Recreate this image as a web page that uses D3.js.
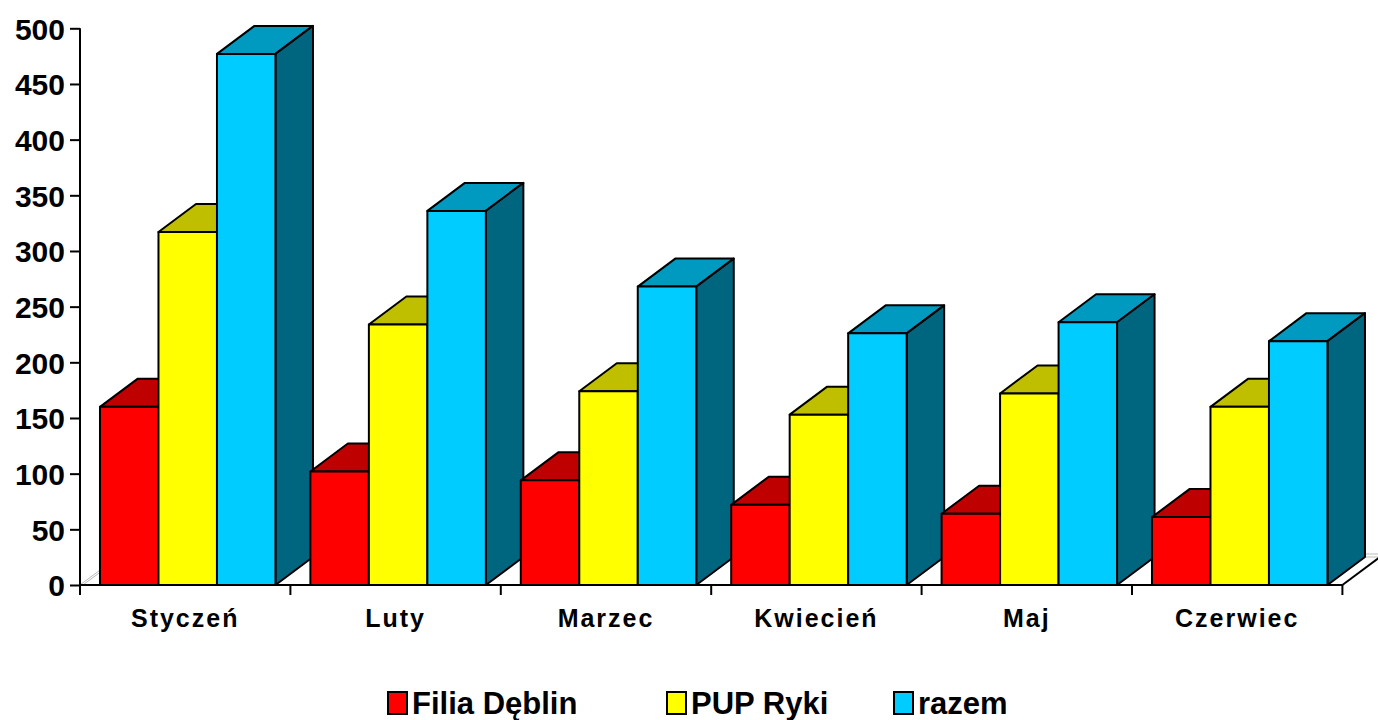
<!DOCTYPE html>
<html>
<head>
<meta charset="utf-8">
<script src="https://cdnjs.cloudflare.com/ajax/libs/d3/7.8.5/d3.min.js"></script>
<style>
  body { margin: 0; background: #fff; }
  text { font-family: "Liberation Sans", Arial, sans-serif; font-weight: bold; fill: #000; }
</style>
</head>
<body>
<div id="chart"></div>
<script>
// data
var months = ["Styczeń", "Luty", "Marzec", "Kwiecień", "Maj", "Czerwiec"];
var seriesNames = ["Filia Dęblin", "PUP Ryki", "razem"];
var filiaDeblin = [160, 102, 94, 72, 64, 61];
var pupRyki = [317, 234, 174, 153, 172, 160];
var razem = [477, 336, 268, 226, 236, 219];
var yTicks = [0, 50, 100, 150, 200, 250, 300, 350, 400, 450, 500];

var seriesValues = [filiaDeblin, pupRyki, razem];
// front, top, side colours
var colors = {
  "Filia Dęblin": ["#FF0000", "#BF0000", "#800000"],
  "PUP Ryki": ["#FFFF00", "#BFBF00", "#808000"],
  "razem": ["#00CCFF", "#0099BF", "#006680"]
};

var W = 1378, H = 720;
var mLeft = 80, mRight = 1342.4, mBottom = 585, mTop = 28.3;
var dx = 37.5, dy = 28; // 3d depth

var svg = d3.select("#chart").append("svg").attr("width", W).attr("height", H);

var x0 = d3.scaleBand().domain(months).range([mLeft, mRight]);
var catW = x0.bandwidth();
var x1 = d3.scaleBand().domain(seriesNames)
  .range([catW * 0.095, catW * 0.095 + catW * 0.278 * 3]);
var y = d3.scaleLinear().domain([0, 500]).range([mBottom, mTop]);

// floor
var floor = svg.append("g").attr("stroke", "#bbb").attr("stroke-width", 1);
floor.append("line").attr("x1", mLeft).attr("y1", mBottom).attr("x2", mLeft + dx).attr("y2", mBottom - dy);
floor.append("line").attr("x1", mLeft + 3).attr("y1", mBottom).attr("x2", mLeft + dx + 3).attr("y2", mBottom - dy);
floor.append("line").attr("x1", mLeft + dx).attr("y1", mBottom - dy).attr("x2", W).attr("y2", mBottom - dy);
floor.append("line").attr("x1", mLeft + dx).attr("y1", mBottom - dy - 3).attr("x2", W).attr("y2", mBottom - dy - 3);
svg.append("line").attr("x1", mRight).attr("y1", mBottom).attr("x2", mRight + dx).attr("y2", mBottom - dy)
  .attr("stroke", "#000").attr("stroke-width", 2);

// axes
var yAxis = svg.append("g").attr("transform", "translate(" + mLeft + ",0)")
  .call(d3.axisLeft(y).tickValues(yTicks).tickSize(10).tickPadding(5).tickFormat(d3.format("d")));
yAxis.select(".domain").remove();
yAxis.selectAll("line").attr("stroke", "#000").attr("stroke-width", 2);
yAxis.selectAll("text").style("font-size", "30px").attr("dy", "0.36em");
svg.append("line").attr("x1", mLeft).attr("x2", mLeft).attr("y1", mTop).attr("y2", mBottom + 10)
  .attr("stroke", "#000").attr("stroke-width", 2);

svg.append("line").attr("x1", mLeft).attr("x2", mRight).attr("y1", mBottom).attr("y2", mBottom)
  .attr("stroke", "#000").attr("stroke-width", 2);
svg.selectAll(".cattick").data(months.concat([null])).enter().append("line")
  .attr("x1", function(d, i) { return mLeft + i * x0.step(); })
  .attr("x2", function(d, i) { return mLeft + i * x0.step(); })
  .attr("y1", mBottom).attr("y2", mBottom + 10)
  .attr("stroke", "#000").attr("stroke-width", 2);

var xAxis = svg.append("g").attr("transform", "translate(0," + mBottom + ")")
  .call(d3.axisBottom(x0).tickSize(0).tickPadding(24));
xAxis.select(".domain").remove();
xAxis.selectAll("text").style("font-size", "25px").style("letter-spacing", "2px").attr("dy", "0.71em");

// bars, drawn left to right so later bars cover earlier side faces
var bars = svg.append("g").attr("stroke", "#000").attr("stroke-width", 2).attr("stroke-linejoin", "round");
months.forEach(function(m, i) {
  seriesNames.forEach(function(s, j) {
    var v = seriesValues[j][i];
    var xl = x0(m) + x1(s), xr = xl + x1.bandwidth();
    var yt = y(v), yb = y(0);
    var c = colors[s];
    var g = bars.append("g");
    // top
    g.append("path").attr("fill", c[1])
      .attr("d", "M" + xl + "," + yt + "L" + (xl + dx) + "," + (yt - dy) + "L" + (xr + dx) + "," + (yt - dy) + "L" + xr + "," + yt + "Z");
    // side
    g.append("path").attr("fill", c[2])
      .attr("d", "M" + xr + "," + yt + "L" + (xr + dx) + "," + (yt - dy) + "L" + (xr + dx) + "," + (yb - dy) + "L" + xr + "," + yb + "Z");
    // front
    g.append("rect").attr("x", xl).attr("y", yt).attr("width", xr - xl).attr("height", yb - yt)
      .attr("fill", c[0]);
  });
});

// legend
var legendX = [388, 667, 894];
var legend = svg.append("g").attr("transform", "translate(0,692)");
seriesNames.forEach(function(s, j) {
  legend.append("rect").attr("x", legendX[j]).attr("y", 0).attr("width", 19).attr("height", 22)
    .attr("fill", colors[s][0]).attr("stroke", "#000").attr("stroke-width", 2);
  legend.append("text").attr("x", legendX[j] + 24).attr("y", 22)
    .style("font-size", "31px").text(s);
});
</script>
</body>
</html>
